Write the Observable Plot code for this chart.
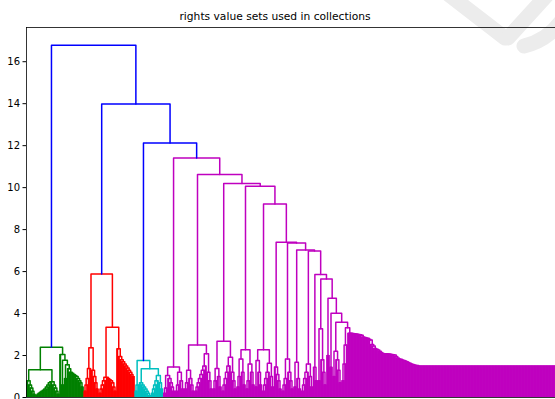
<!DOCTYPE html>
<html><head><meta charset="utf-8">
<script src="https://cdn.jsdelivr.net/npm/d3@7"></script>
<script src="https://cdn.jsdelivr.net/npm/@observablehq/plot@0.6"></script>
<style>
body{margin:0;background:#fff;}
#wrap{position:relative;width:555px;height:399px;overflow:hidden;}
#wm{position:absolute;left:0;top:0;}
</style>
</head><body><div id="wrap"><svg id="wm" width="555" height="399"><g fill="none" stroke="#ececec" stroke-width="15" stroke-linecap="round"><path d="M448,-6 L505,38"/><path d="M508,38 L548,-6"/><path d="M562,20 Q548,40 524,46"/></g></svg><div id="chart"></div></div>
<script>
const title = "rights value sets used in collections";
const yTicks = [0, 2, 4, 6, 8, 10, 12, 14, 16];
const yMax = 17.63;
const visibleLeaves = 352.67;
const topHeights = [16.79, 13.98, 12.13];   // root, (red | rest), (cyan | magenta)
const colors = {above: "#0000ff", green: "#008000", red: "#ff0000", cyan: "#00bfbf", magenta: "#bf00bf"};

// node: [height, left, right]; 0 = single leaf;
// {up:[h...]} = chain growing to the right; {dn:[h...]} = chain growing to the left
const green = [2.40,
  [1.32, [0.8, 0, {dn: [0.15, 0.3, 0.45, 0.6]}],
         [0.75, {up: [0.1, 0.15, 0.2, 0.25, 0.3, 0.35, 0.4, 0.5, 0.6, 0.7]}, {dn: [0.15, 0.3, 0.45, 0.6]}]],
  [2.05, 0, [1.78, [0.6, 0, 0], [1.56, [0.9, 0, 0], [1.37, 0, {dn: [0.5, 0.7, 0.8, 0.9, 1.0, 1.05, 1.1, 1.15, 1.2]}]]]]];

const red = [5.89,
  [2.37, {up: [0.3, 0.6, 0.9, 1.38]}, {dn: [0.4, 0.7, 1.0, 1.3]}],
  [3.35, [0.97, {up: [0.2, 0.4, 0.6, 0.8]}, {dn: [0.3, 0.5, 0.7, 0.8, 0.85, 0.9]}],
         {dn: [1.0, 1.1, 1.2, 1.3, 1.4, 1.5, 1.6, 1.7, 1.8, 1.95, 2.32]}]];

const cyan = [1.76, {up: [0.3, 0.6]},
  [1.37, {dn: [0.1, 0.2, 0.3, 0.4, 0.5, 0.6, 0.7]}, [1.05, {up: [0.2, 0.4, 0.6, 0.8]}, {dn: [0.4, 0.7]}]]];

const magentaSpine = [11.41, 10.63, 10.2, 10.06, 9.22, 7.40, 7.36, 7.03, 6.98, 5.86, 5.65, 4.73, 4.02, 3.59, 3.32];
const magentaBranches = [
  [1.45, [1.05, {up: [0.2, 0.45]}, {dn: [0.3, 0.5, 0.7, 0.9]}], [1.2, {up: [0.3, 0.6]}, {dn: [0.4, 0.8]}]],
  [2.5, [1.3, {up: [0.4, 0.7]}, {dn: [0.3, 0.6, 0.9]}], [2.08, {up: [0.3, 0.5, 0.7, 0.9, 1.1, 1.3, 1.5]}, {dn: [0.4, 0.8, 1.2]}]],
  [2.68, [1.38, {up: [0.4, 0.8]}, {dn: [0.5, 1.0]}], [1.92, {up: [0.3, 0.6, 0.9, 1.2, 1.5]}, {dn: [0.4, 0.8, 1.2]}]],
  [2.27, [1.84, {up: [0.5, 1.0]}, {dn: [0.6, 1.2]}], [1.6, {up: [0.4, 0.8]}, {dn: [0.6, 1.2]}]],
  [2.28, [1.76, {up: [0.5]}, {dn: [0.6, 1.2]}], [1.63, {up: [0.3, 0.6, 0.9, 1.2]}, {dn: [0.5, 1.0]}]],
  [1.45, 0, {dn: [0.4, 0.8, 1.1]}],
  [1.84, {up: [0.3, 0.6, 0.9]}, {dn: [0.4, 0.8, 1.2]}],
  [1.68, {up: [0.5]}, {dn: [0.4, 0.9]}],
  [1.6, {up: [0.3, 0.6, 0.9, 1.2]}, {dn: [0.5, 1.0]}],
  [1.44, 0, {dn: [0.8]}],
  [3.27, {up: [0.8]}, {dn: [0.6, 1.2, 1.8]}],
  [2.0, 0, 0],
  [1.44, 0, 0],
  [2.2, {up: [1.0]}, {dn: [0.7, 1.3, 1.8]}],
  [2.5, {up: [0.8, 1.6]}, 0]
];
// descending staircase after the last spine step (left to right)
const stairHeights = [3.06, 3.06, 3.05, 3.04, 3.02, 3.01, 3.0, 2.99, 2.97, 2.88, 2.86, 2.84, 2.82, 2.78, 2.74,
  2.52, 2.45, 2.34, 2.3, 2.26, 2.2, 2.14, 2.1, 2.08, 2.08, 2.07, 2.07, 2.06, 2.05, 2.04, 2.02, 1.95, 1.88,
  1.84, 1.82, 1.79, 1.76, 1.74, 1.7, 1.67, 1.63, 1.6, 1.57, 1.55, 1.53, 1.52];
const tailHeight = 1.49;
const tailCount = 100;

// ---- layout (scipy-style: node x = midpoint of its two children) ----
const rows = [];      // link polylines
const leafRows = [];  // leaf stems (leaf up to its first merge)
let nextLeaf = 0, linkId = 0;
function link(a, b, h, color) {
  const id = linkId++;
  rows.push({x: a.x, y: a.h, id, color}, {x: a.x, y: h, id, color},
            {x: b.x, y: h, id, color}, {x: b.x, y: b.h, id, color});
  if (a.leaf) leafRows.push({x: a.x, h, color});
  if (b.leaf) leafRows.push({x: b.x, h, color});
  return {x: (a.x + b.x) / 2, h};
}
const leaf = () => ({x: nextLeaf++, h: 0, leaf: true});
function build(node, color) {
  if (node === 0) return leaf();
  if (Array.isArray(node)) {
    const a = build(node[1], color), b = build(node[2], color);
    return link(a, b, node[0], color);
  }
  if (node.up) {
    let c = leaf();
    for (const h of node.up) c = link(c, leaf(), h, color);
    return c;
  }
  const n = node.dn.length + 1, start = nextLeaf;
  nextLeaf += n;
  let c = {x: start + n - 1, h: 0, leaf: true};
  node.dn.forEach((h, k) => { c = link({x: start + n - 2 - k, h: 0, leaf: true}, c, h, color); });
  return c;
}
let magenta = {dn: [...new Array(tailCount).fill(tailHeight), ...stairHeights.slice().reverse()]};
for (let k = magentaSpine.length - 1; k >= 0; k--) magenta = [magentaSpine[k], magentaBranches[k], magenta];

const g = build(green, colors.green);
const r = build(red, colors.red);
const c = build(cyan, colors.cyan);
const m = build(magenta, colors.magenta);
const t3 = link(c, m, topHeights[2], colors.above);
const t2 = link(r, t3, topHeights[1], colors.above);
link(g, t2, topHeights[0], colors.above);

const plot = Plot.plot({
  width: 555, height: 399,
  marginLeft: 26, marginRight: 0, marginTop: 27, marginBottom: 2,
  x: {domain: [-0.5, visibleLeaves - 0.5], axis: null},
  y: {domain: [0, yMax]},
  color: {type: "identity"},
  style: {fontFamily: "DejaVu Sans", fontSize: "10px", color: "#000", background: "transparent", overflow: "visible"},
  marks: [
    Plot.ruleX(leafRows, {x: "x", y1: 0, y2: "h", stroke: "color", strokeWidth: 2, clip: true}),
    Plot.line(rows, {x: "x", y: "y", z: "id", stroke: "color", strokeWidth: 1.5, clip: true}),
    Plot.ruleY([0, yMax], {stroke: "#000", strokeWidth: 0.8}),
    Plot.ruleX([-0.5], {stroke: "#000", strokeWidth: 0.8}),
    Plot.axisY({ticks: yTicks, tickSize: 3.5, tickPadding: 3, label: null, fontSize: 10}),
    Plot.text([title], {frameAnchor: "top", lineAnchor: "bottom", dy: -7.5, dx: -16, fontSize: 10.7, fill: "#000"})
  ]
});
const el = document.getElementById("chart");
el.style.position = "absolute"; el.style.left = "0"; el.style.top = "0";
el.appendChild(plot);
</script></body></html>
